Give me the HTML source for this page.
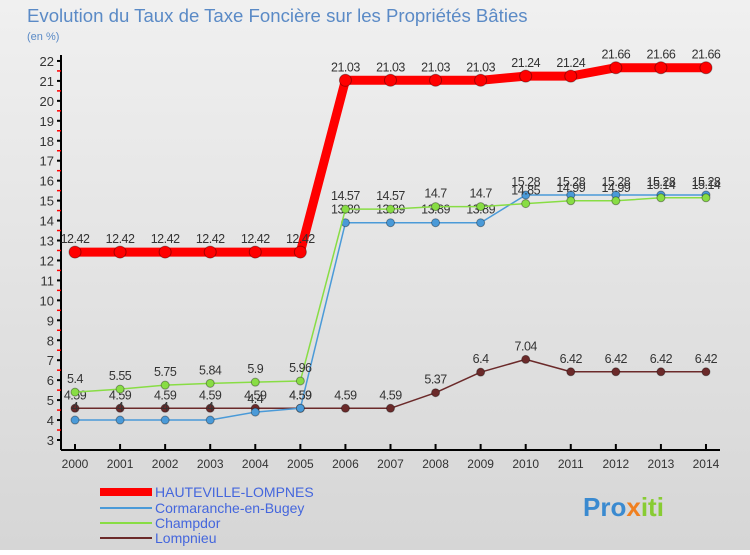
<!DOCTYPE html>
<html><head><meta charset="utf-8"><style>
body{margin:0}
svg text{font-family:"Liberation Sans",sans-serif}
</style></head><body>
<svg id="c" width="750" height="550" xmlns="http://www.w3.org/2000/svg">
<defs><linearGradient id="bg" x1="0" y1="0" x2="0" y2="1"><stop offset="0" stop-color="#f0f0f0"/><stop offset="1" stop-color="#d6d6d6"/></linearGradient></defs>
<rect width="750" height="550" fill="url(#bg)"/>
<text x="27" y="22" font-size="18.6" fill="#5a8ac6">Evolution du Taux de Taxe Foncière sur les Propriétés Bâties</text>
<text x="27" y="40" font-size="11" fill="#5a8ac6">(en %)</text>
<g id="axes"></g><g id="series"></g>
<g>
<rect x="100" y="488" width="52" height="8" fill="#ff0000"/>
<text x="155" y="497" font-size="14" fill="#4466dd">HAUTEVILLE-LOMPNES</text>
<line x1="100" y1="508" x2="152" y2="508" stroke="#4a9ad8" stroke-width="2"/>
<text x="155" y="513" font-size="14" fill="#4466dd">Cormaranche-en-Bugey</text>
<line x1="100" y1="523" x2="152" y2="523" stroke="#88dd44" stroke-width="2"/>
<text x="155" y="528" font-size="14" fill="#4466dd">Champdor</text>
<line x1="100" y1="538" x2="152" y2="538" stroke="#6b2a2a" stroke-width="2"/>
<text x="155" y="543" font-size="14" fill="#4466dd">Lompnieu</text>
</g>
<text x="583" y="516" font-size="26" font-weight="bold" fill="#3a8ad0">Pro<tspan fill="#f08020">x</tspan><tspan fill="#88cc33">iti</tspan></text>
</svg>
<script>
const years=[2000,2001,2002,2003,2004,2005,2006,2007,2008,2009,2010,2011,2012,2013,2014];
const hauteville=[12.42,12.42,12.42,12.42,12.42,12.42,21.03,21.03,21.03,21.03,21.24,21.24,21.66,21.66,21.66];
const cormaranche=[4,4,4,4,4.4,4.59,13.89,13.89,13.89,13.89,15.28,15.28,15.28,15.28,15.28];
const champdor=[5.4,5.55,5.75,5.84,5.9,5.96,14.57,14.57,14.7,14.7,14.85,14.99,14.99,15.14,15.14];
const lompnieu=[4.59,4.59,4.59,4.59,4.59,4.59,4.59,4.59,5.37,6.4,7.04,6.42,6.42,6.42,6.42];
const yTicks=[3,4,5,6,7,8,9,10,11,12,13,14,15,16,17,18,19,20,21,22];
const NS="http://www.w3.org/2000/svg";
const x=i=>75+i*45.07, y=v=>440-(v-3)*19.95;
function mk(t,a,p){const e=document.createElementNS(NS,t);for(const k in a)e.setAttribute(k,a[k]);p.appendChild(e);return e;}
const ax=document.getElementById('axes'), sg=document.getElementById('series');
const yl=mk('line',{x1:61,y1:55,x2:61,y2:450,stroke:'#000','stroke-width':2},ax);


const xl=mk('line',{x1:61,y1:450,x2:720,y2:450,stroke:'#000','stroke-width':2},ax);


yTicks.forEach(v=>{
 mk('line',{x1:57,y1:y(v),x2:61,y2:y(v),stroke:'#000','stroke-width':2},ax);
 if(v<22) mk('line',{x1:57,y1:y(v+0.5),x2:61,y2:y(v+0.5),stroke:'#f00','stroke-width':1.5},ax);
 const t=mk('text',{x:54,y:y(v)+5,'font-size':13,'text-anchor':'end',fill:'#333'},ax);t.textContent=v;
 
 
});
years.forEach((yr,i)=>{
 mk('line',{x1:x(i),y1:444,x2:x(i),y2:450,stroke:'#000','stroke-width':2},ax);
 const t=mk('text',{x:x(i),y:468,'font-size':12,'text-anchor':'middle',fill:'#333'},ax);t.textContent=yr;
 
 
});
function series(d,col,w,r,name){
 const g=mk('g',{},sg);
 
 
 mk('polyline',{points:d.map((v,i)=>x(i)+','+y(v)).join(' '),fill:'none',stroke:col,'stroke-width':w,'stroke-linejoin':'round'},g);
 d.forEach((v,i)=>{
  const c=mk('circle',{cx:x(i),cy:y(v),r:r,fill:col,stroke:'rgba(0,0,0,0.35)'},g);
  
  
  const t=mk('text',{x:x(i),y:y(v)-9,'font-size':12.5,'text-anchor':'middle',fill:'#333','letter-spacing':'-0.5'},g);t.textContent=v;
 });
}
series(lompnieu,'#6b2a2a',1.5,4,'lompnieu-line');
series(cormaranche,'#4a9ad8',1.5,4,'cormaranche-line');
series(champdor,'#88dd44',1.5,4,'champdor-line');
series(hauteville,'#ff0000',9,6,'hauteville-line');
</script>
</body></html>
